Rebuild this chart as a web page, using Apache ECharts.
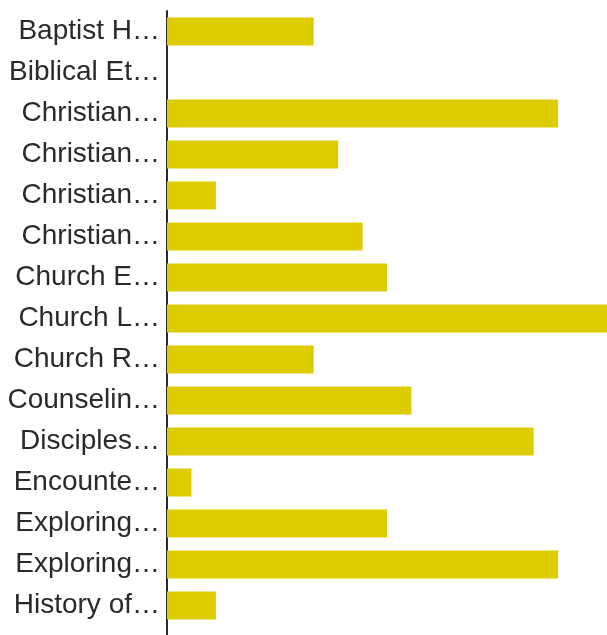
<!DOCTYPE html>
<html>
<head>
<meta charset="utf-8">
<script src="https://cdn.jsdelivr.net/npm/echarts@6/dist/echarts.min.js"></script>
<style>
html,body{margin:0;padding:0;background:#fff;}
#chart{width:607px;height:635px;}
</style>
</head>
<body>
<div id="chart"></div>
<script>
var categories = [
  "Baptist H\u2026", "Biblical Et\u2026", "Christian\u2026", "Christian\u2026", "Christian\u2026",
  "Christian\u2026", "Church E\u2026", "Church L\u2026", "Church R\u2026", "Counselin\u2026",
  "Disciples\u2026", "Encounte\u2026", "Exploring\u2026", "Exploring\u2026", "History of\u2026"
];
var values = [6, 0, 16, 7, 2, 8, 9, 18, 6, 10, 15, 1, 9, 16, 2];
var xMax = 18;

var chart = echarts.init(document.getElementById('chart'));
chart.setOption({
  animation: false,
  grid: { left: 167, right: 0, top: 11, bottom: 9, containLabel: false },
  xAxis: {
    type: 'value', min: 0, max: xMax, show: false
  },
  yAxis: {
    type: 'category',
    data: categories,
    inverse: true,
    axisLine: { show: true, lineStyle: { color: '#2a2a2a', width: 2 } },
    axisTick: { show: false },
    splitLine: { show: false },
    axisLabel: {
      fontFamily: 'Liberation Sans, Arial, sans-serif',
      fontSize: 28,
      color: '#2a2a2a',
      margin: 7
    }
  },
  series: [{
    type: 'bar',
    data: values,
    barWidth: 28,
    itemStyle: { color: '#dccc00' }
  }],
  graphic: [{
    type: 'line',
    shape: { x1: 167, y1: 624, x2: 167, y2: 635 },
    style: { stroke: '#2a2a2a', lineWidth: 2 }
  }]
});
</script>
</body>
</html>
